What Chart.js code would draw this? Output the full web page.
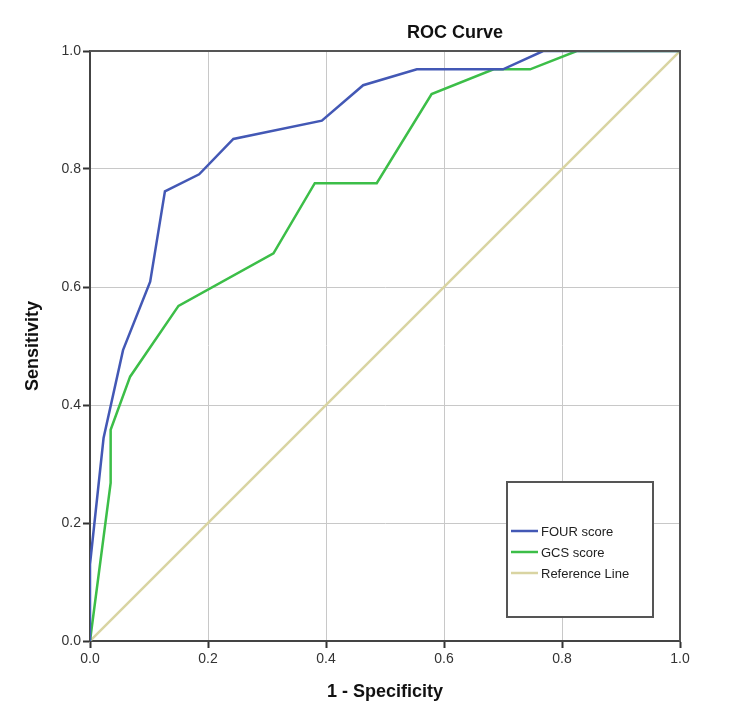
<!DOCTYPE html>
<html>
<head>
<meta charset="utf-8">
<script src="https://cdn.jsdelivr.net/npm/chart.js"></script>
<style>
  html, body { margin: 0; padding: 0; background: #fff; }
  #wrap { width: 750px; height: 726px; }
</style>
</head>
<body>
<div id="wrap"><canvas id="roc-chart" width="750" height="726"></canvas></div>
<script>
// values
var fourFpr = [0, 0, 0.023, 0.056, 0.102, 0.127, 0.185, 0.243, 0.393, 0.463, 0.554, 0.70, 0.768, 1.0];
var fourTpr = [0, 0.13, 0.344, 0.493, 0.609, 0.762, 0.791, 0.851, 0.882, 0.942, 0.969, 0.969, 1.0, 1.0];
var gcsFpr = [0, 0.035, 0.035, 0.068, 0.150, 0.311, 0.381, 0.486, 0.579, 0.684, 0.746, 0.825, 1.0];
var gcsTpr = [0, 0.268, 0.358, 0.448, 0.568, 0.657, 0.776, 0.776, 0.927, 0.969, 0.969, 1.0, 1.0];
var refFpr = [0, 1];
var refTpr = [0, 1];
var seriesNames = ['FOUR score', 'GCS score', 'Reference Line'];
var seriesColors = ['#4358b5', '#3cbe48', '#d9d4a2'];

function toPoints(xs, ys) {
    return xs.map(function (x, i) { return { x: x, y: ys[i] }; });
}

var tickFont = { family: '"Liberation Sans Narrow", "Liberation Sans", Arial, sans-serif', size: 14 };
var titleFont = { family: '"Liberation Sans", Arial, sans-serif', size: 18, weight: 'bold' };

// title off-centre and boxed legend, drawn by hand like the SPSS output
var sideDecor = {
    id: 'sideDecor',
    afterDraw: function (chart) {
        var ctx = chart.ctx;
        var area = chart.chartArea;
        ctx.save();
        // frame on top and right
        ctx.strokeStyle = '#555';
        ctx.lineWidth = 2;
        ctx.beginPath();
        ctx.moveTo(area.left, area.top);
        ctx.lineTo(area.right, area.top);
        ctx.lineTo(area.right, area.bottom);
        ctx.stroke();

        ctx.fillStyle = '#111';
        ctx.font = 'bold 18px "Liberation Sans", Arial, sans-serif';
        ctx.textAlign = 'center';
        ctx.textBaseline = 'middle';
        ctx.fillText('ROC Curve', 455, 33);

        // legend box
        ctx.fillStyle = '#fff';
        ctx.fillRect(507, 482, 146, 135);
        ctx.strokeStyle = '#555';
        ctx.lineWidth = 2;
        ctx.strokeRect(507, 482, 146, 135);
        ctx.font = '13px "Liberation Sans", Arial, sans-serif';
        ctx.textAlign = 'left';
        for (var i = 0; i < seriesNames.length; i++) {
            var y = 531 + i * 21;
            ctx.strokeStyle = seriesColors[i];
            ctx.lineWidth = 2.5;
            ctx.beginPath();
            ctx.moveTo(511, y);
            ctx.lineTo(538, y);
            ctx.stroke();
            ctx.fillStyle = '#222';
            ctx.fillText(seriesNames[i], 541, y + 1);
        }
        ctx.restore();
    }
};

new Chart(document.getElementById('roc-chart'), {
    type: 'scatter',
    data: {
        datasets: [
            { label: seriesNames[2], data: toPoints(refFpr, refTpr), borderColor: seriesColors[2], borderWidth: 2.5, showLine: true, pointRadius: 0, order: 3 },
            { label: seriesNames[1], data: toPoints(gcsFpr, gcsTpr), borderColor: seriesColors[1], borderWidth: 2.5, showLine: true, pointRadius: 0, order: 2 },
            { label: seriesNames[0], data: toPoints(fourFpr, fourTpr), borderColor: seriesColors[0], borderWidth: 2.5, showLine: true, pointRadius: 0, order: 1 }
        ]
    },
    options: {
        responsive: false,
        animation: false,
        layout: { padding: { top: 51, right: 70, left: 0, bottom: 0 } },
        plugins: {
            legend: { display: false },
            tooltip: { enabled: false }
        },
        scales: {
            x: {
                type: 'linear',
                min: 0,
                max: 1,
                afterFit: function (scale) { scale.height = 85; },
                ticks: { stepSize: 0.2, font: tickFont, color: '#333', padding: 3,
                    callback: function (v) { return v.toFixed(1); } },
                grid: { color: '#c8c8c8', lineWidth: 1, tickColor: '#333', tickLength: 7, tickWidth: 2 },
                border: { color: '#444', width: 2 },
                title: { display: true, text: '1 - Specificity', font: titleFont, color: '#111', padding: { top: 0, bottom: 23 } }
            },
            y: {
                type: 'linear',
                min: 0,
                max: 1,
                afterFit: function (scale) { scale.width = 90; },
                ticks: { stepSize: 0.2, font: tickFont, color: '#333', padding: 2,
                    callback: function (v) { return v.toFixed(1); } },
                grid: { color: '#c8c8c8', lineWidth: 1, tickColor: '#333', tickLength: 7, tickWidth: 2 },
                border: { color: '#444', width: 2 },
                title: { display: true, text: 'Sensitivity', font: titleFont, color: '#111', padding: { top: 22, bottom: 0 } }
            }
        }
    },
    plugins: [sideDecor]
});
</script>
</body>
</html>
